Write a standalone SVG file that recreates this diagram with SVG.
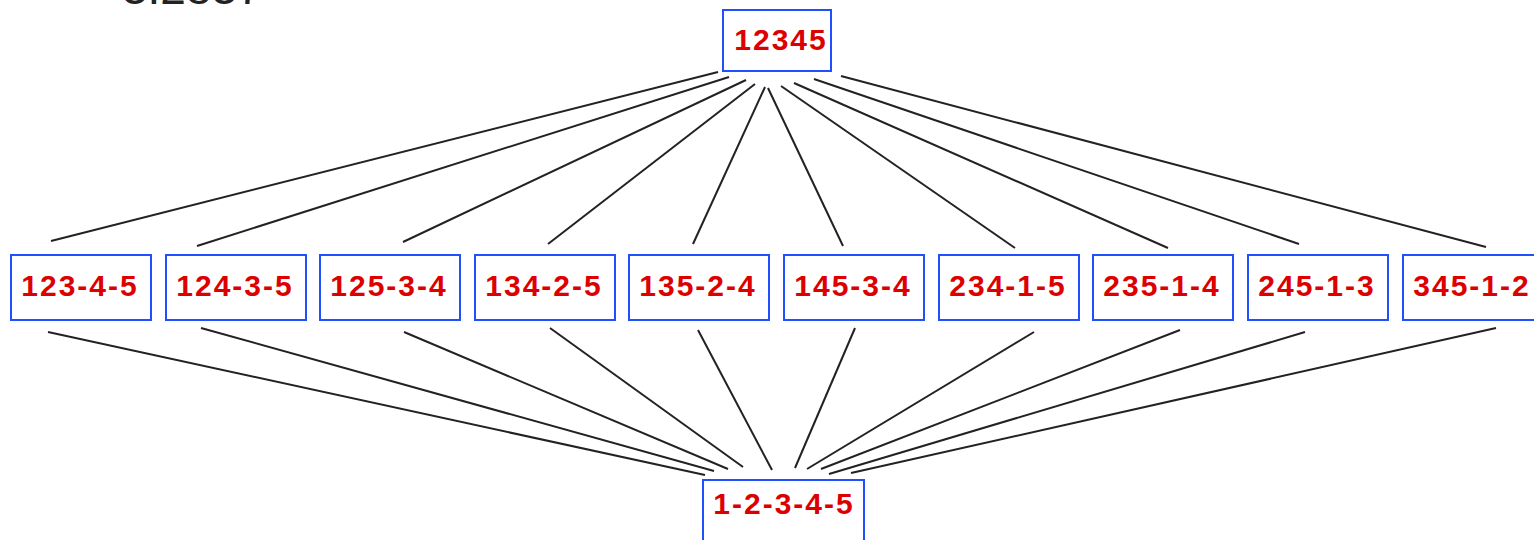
<svg xmlns="http://www.w3.org/2000/svg" width="1534" height="540" viewBox="0 0 1534 540">
<style>
.box{fill:#fff;stroke:#1f4fff;stroke-width:2}
.lbl{font-family:"Liberation Sans",Arial,sans-serif;font-weight:bold;font-size:30px;fill:#dd0000;text-anchor:middle;letter-spacing:2px}
.e{stroke:#222;stroke-width:2;fill:none}
.title{font-family:"Liberation Sans",Arial,sans-serif;font-size:46px;fill:#222}
</style>
<rect width="1534" height="540" fill="#fff"/>
<text class="title" x="122" y="4">3.2837</text>
<g id="connectors">
<line class="e" x1="718" y1="72" x2="51" y2="241"/>
<line class="e" x1="729" y1="77" x2="197" y2="246"/>
<line class="e" x1="746" y1="80" x2="403" y2="242"/>
<line class="e" x1="755" y1="84" x2="548" y2="244"/>
<line class="e" x1="765" y1="87" x2="693" y2="244"/>
<line class="e" x1="768" y1="88" x2="843" y2="246"/>
<line class="e" x1="781" y1="86" x2="1015" y2="248"/>
<line class="e" x1="794" y1="83" x2="1168" y2="248"/>
<line class="e" x1="814" y1="79" x2="1299" y2="244"/>
<line class="e" x1="841" y1="76" x2="1486" y2="247"/>
<line class="e" x1="48" y1="332" x2="705" y2="475"/>
<line class="e" x1="201" y1="328" x2="714" y2="471"/>
<line class="e" x1="404" y1="332" x2="728" y2="469"/>
<line class="e" x1="550" y1="328" x2="743" y2="467"/>
<line class="e" x1="698" y1="330" x2="772" y2="470"/>
<line class="e" x1="855" y1="328" x2="795" y2="468"/>
<line class="e" x1="1034" y1="332" x2="807" y2="469"/>
<line class="e" x1="1180" y1="330" x2="821" y2="469"/>
<line class="e" x1="1305" y1="332" x2="829" y2="474"/>
<line class="e" x1="1496" y1="328" x2="851" y2="473"/>
</g>
<g id="n12345"><rect class="box" x="723" y="10" width="108" height="61"/><text class="lbl" x="781" y="50">12345</text></g>
<g id="n123-4-5"><rect class="box" x="11" y="255" width="140" height="65"/><text class="lbl" x="80" y="296">123-4-5</text></g>
<g id="n124-3-5"><rect class="box" x="166" y="255" width="140" height="65"/><text class="lbl" x="235" y="296">124-3-5</text></g>
<g id="n125-3-4"><rect class="box" x="320" y="255" width="140" height="65"/><text class="lbl" x="389" y="296">125-3-4</text></g>
<g id="n134-2-5"><rect class="box" x="475" y="255" width="140" height="65"/><text class="lbl" x="544" y="296">134-2-5</text></g>
<g id="n135-2-4"><rect class="box" x="629" y="255" width="140" height="65"/><text class="lbl" x="698" y="296">135-2-4</text></g>
<g id="n145-3-4"><rect class="box" x="784" y="255" width="140" height="65"/><text class="lbl" x="853" y="296">145-3-4</text></g>
<g id="n234-1-5"><rect class="box" x="939" y="255" width="140" height="65"/><text class="lbl" x="1008" y="296">234-1-5</text></g>
<g id="n235-1-4"><rect class="box" x="1093" y="255" width="140" height="65"/><text class="lbl" x="1162" y="296">235-1-4</text></g>
<g id="n245-1-3"><rect class="box" x="1248" y="255" width="140" height="65"/><text class="lbl" x="1317" y="296">245-1-3</text></g>
<g id="n345-1-2"><rect class="box" x="1403" y="255" width="140" height="65"/><text class="lbl" x="1472" y="296">345-1-2</text></g>
<g id="n1-2-3-4-5"><rect class="box" x="703" y="480" width="161" height="66"/><text class="lbl" x="784" y="514">1-2-3-4-5</text></g>
</svg>
